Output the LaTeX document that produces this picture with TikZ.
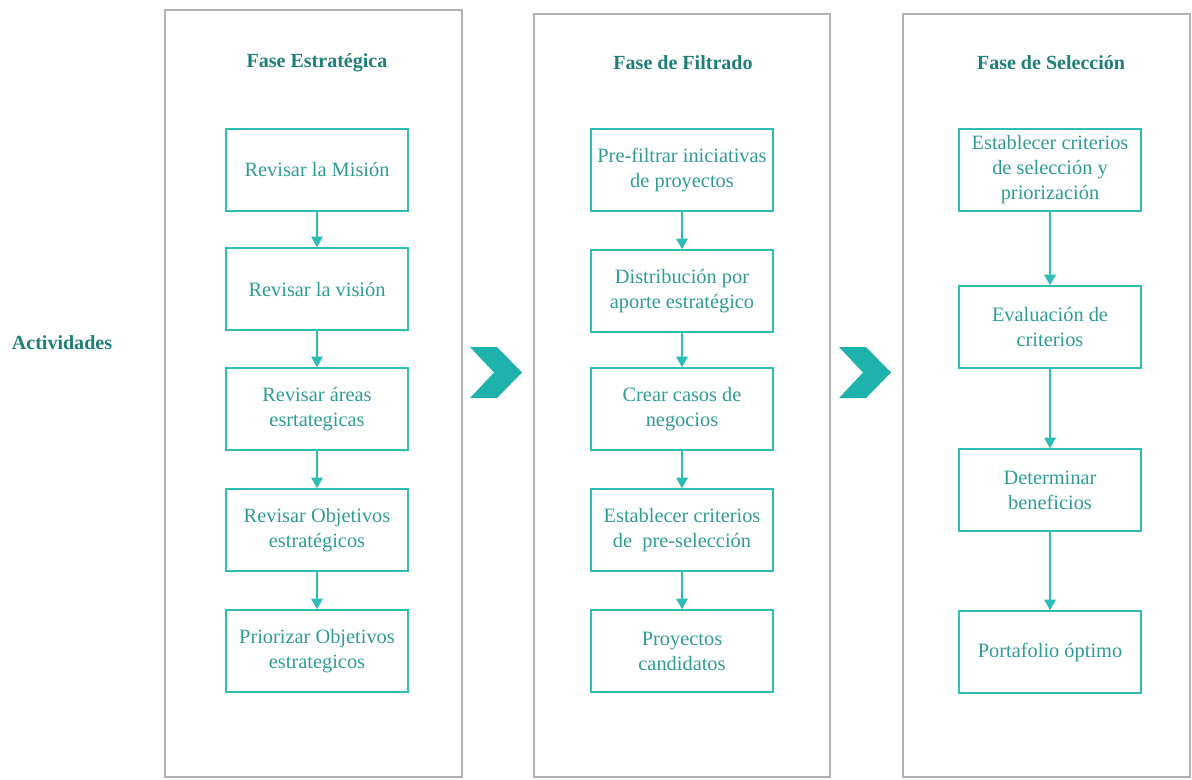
\documentclass[tikz,border=0pt]{standalone}
\usepackage{fontspec}
\setmainfont{Liberation Serif}
\usetikzlibrary{arrows.meta}
\definecolor{tealdark}{HTML}{1E7F78}
\definecolor{tealline}{HTML}{2DBDB4}
\definecolor{tealtext}{HTML}{2E9C95}
\definecolor{tealmark}{HTML}{1DB3AC}
\tikzset{
  act/.style={draw=tealline, line width=0.9pt, text=tealtext, minimum width=3.64cm,
    minimum height=1.64cm, align=center, inner sep=0pt,
    font=\fontsize{11.6}{14.2}\selectfont},
  flow/.style={draw=tealline, line width=1pt, -{Triangle[length=6pt,width=6.5pt]}},
  fase/.style={text=tealdark, font=\bfseries\fontsize{11.4}{14}\selectfont},
  panel/.style={draw=black!30, line width=0.9pt}
}
\begin{document}
\begin{tikzpicture}[x=0.02cm,y=-0.02cm]
  \useasboundingbox (0,0) rectangle (1192,779);
  % panels
  \draw[panel] (165,10) rectangle (462,777);
  \draw[panel] (534,14) rectangle (830,777);
  \draw[panel] (903,14) rectangle (1190,777);
  \node[fase] (act) at (62,343) {Actividades};
  \node[fase] (f1) at (317,63) {Fase Estratégica};
  \node[fase] (f2) at (683,63) {Fase de Filtrado};
  \node[fase] (f3) at (1051,63) {Fase de Selección};
  % chevrons
  \foreach \dx in {0,369} {
    \fill[tealmark,xshift=\dx*0.02cm] (470,347) -- (497,347) -- (522,372.5) -- (497,398)
      -- (470,398) -- (494,372.5) -- cycle;
  }
  % strategic phase
  \node[act] (e1) at (317,170) {Revisar la Misión};
  \node[act] (e2) at (317,289) {Revisar la visión};
  \node[act] (e3) at (317,409) {Revisar áreas\\esrtategicas};
  \node[act] (e4) at (317,530) {Revisar Objetivos\\estratégicos};
  \node[act] (e5) at (317,651) {Priorizar Objetivos\\estrategicos};
  % filtering phase
  \node[act] (p1) at (682,170) {Pre-filtrar iniciativas\\de proyectos};
  \node[act] (p2) at (682,291) {Distribución por\\aporte estratégico};
  \node[act] (p3) at (682,409) {Crear casos de\\negocios};
  \node[act] (p4) at (682,530) {Establecer criterios\\de\ \ pre-selección};
  \node[act] (p5) at (682,651) {Proyectos\\candidatos};
  % selection phase
  \node[act] (s1) at (1050,170) {Establecer criterios\\de selección y\\priorización};
  \node[act] (s2) at (1050,327) {Evaluación de\\criterios};
  \node[act] (s3) at (1050,490) {Determinar\\beneficios};
  \node[act] (s4) at (1050,652) {Portafolio óptimo};
  \foreach \a/\b in {e1/e2,e2/e3,e3/e4,e4/e5,p1/p2,p2/p3,p3/p4,p4/p5,s1/s2,s2/s3,s3/s4} {
    \draw[flow] (\a) -- (\b);
  }
\end{tikzpicture}
\end{document}
